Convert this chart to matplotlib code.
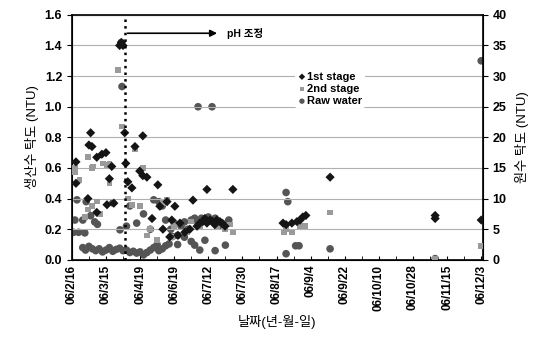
import numpy as np
import matplotlib
matplotlib.use('Agg')
import matplotlib.pyplot as plt

plt.rcParams['font.family'] = ['Liberation Sans', 'Noto Sans CJK KR', 'DejaVu Sans']
plt.rcParams['font.weight'] = 'bold'

# %% DATA (x = position on the date axis, 0 = 06/2/16, one unit per label)
date_labels = ['06/2/16', '06/3/15', '06/4/19', '06/6/19', '06/7/12', '06/7/30',
               '06/8/17', '06/9/4', '06/9/22', '06/10/10', '06/10/28', '06/11/15', '06/12/3']

ph_change_x = 1.55

# 1st stage, product turbidity (NTU, left axis)
st1_x = [0.12, 0.12, 0.47, 0.55, 0.50, 0.59, 0.73, 0.73, 0.88, 1.00, 1.03, 1.10, 1.17,
         1.23, 1.40, 1.45, 1.50, 1.55, 1.58, 1.64, 1.76, 1.85, 1.99, 2.08, 2.08, 2.20,
         2.52, 2.58, 2.35, 2.67, 2.79, 2.93, 3.02, 3.17, 3.55, 3.96, 4.72,
         3.67, 3.75, 3.84, 3.90, 3.96, 4.05, 4.13, 4.19, 4.25, 4.34, 4.40, 4.49,
         3.46, 3.31, 3.11, 2.87,
         6.19, 6.28, 6.45, 6.60, 6.69, 6.77, 6.86, 7.57, 10.65, 10.65, 12.0]
st1_y = [0.64, 0.50, 0.40, 0.83, 0.75, 0.74, 0.67, 0.31, 0.69, 0.70, 0.36, 0.53, 0.61,
         0.37, 1.40, 1.42, 1.40, 0.83, 0.63, 0.51, 0.47, 0.74, 0.58, 0.81, 0.55, 0.54,
         0.49, 0.35, 0.27, 0.20, 0.38, 0.26, 0.35, 0.24, 0.39, 0.46, 0.46,
         0.22, 0.24, 0.25, 0.27, 0.24, 0.26, 0.25, 0.23, 0.26, 0.25, 0.24, 0.22,
         0.20, 0.18, 0.16, 0.15,
         0.24, 0.23, 0.24, 0.25, 0.26, 0.28, 0.29, 0.54, 0.29, 0.27, 0.26]

# 2nd stage, product turbidity (NTU, left axis)
st2_x = [0.09, 0.23, 0.09, 0.47, 0.62, 0.91, 1.03, 1.11, 0.59, 1.11, 0.59, 0.73, 0.47,
         0.38, 0.82, 1.35, 1.47, 1.64, 1.76, 1.99, 1.85, 2.08, 2.67, 2.79, 2.20, 2.29,
         2.49, 2.93, 3.37, 3.75, 4.25, 4.34, 4.63, 4.72, 4.49, 3.00, 3.50,
         6.22, 6.28, 6.45, 6.69, 6.83, 7.57, 10.65, 12.0]
st2_y = [0.60, 0.52, 0.57, 0.67, 0.61, 0.63, 0.62, 0.63, 0.60, 0.50, 0.35, 0.38, 0.33,
         0.28, 0.30, 1.24, 0.87, 0.40, 0.36, 0.35, 0.72, 0.60, 0.37, 0.39, 0.16, 0.20,
         0.13, 0.15, 0.18, 0.22, 0.22, 0.25, 0.23, 0.18, 0.20, 0.22, 0.25,
         0.18, 0.20, 0.18, 0.22, 0.22, 0.31, 0.01, 0.09]

# raw water turbidity (NTU, right axis)
raw_x = [0.32, 0.40, 0.50, 0.60, 0.70, 0.80, 0.90, 1.00, 1.10, 1.20, 1.30, 1.40, 1.50,
         1.60, 1.70, 1.80, 1.90, 2.00, 2.10, 2.20, 2.30, 2.40, 2.50, 2.55, 2.65, 2.75, 2.85,
         0.05, 0.09, 0.15, 0.20, 0.32, 0.38, 0.42, 0.55, 0.67, 0.75, 1.20, 1.41,
         1.45, 1.47,
         1.60, 1.70, 1.90, 2.10, 2.30, 2.40, 2.55, 2.65, 2.75, 2.90, 3.00, 3.10, 3.20,
         3.30, 3.40, 3.50, 3.60, 3.70, 3.80, 3.90, 4.00, 4.10, 4.20, 4.30, 4.40,
         3.30, 3.50, 3.60, 3.75, 3.90, 4.20, 4.50, 4.60, 3.10, 2.95, 3.70, 4.11,
         6.28, 6.33, 6.28, 6.56, 6.66, 7.57, 10.65, 12.0]
raw_y = [2.0, 1.6, 2.2, 1.8, 1.5, 1.8, 1.3, 1.6, 2.0, 1.4, 1.7, 1.9, 1.5,
         1.6, 1.2, 1.4, 1.1, 1.3, 0.8, 1.2, 1.6, 2.0, 2.5, 1.5, 1.8, 2.3, 2.6,
         4.5, 6.5, 9.8, 4.5, 6.5, 4.4, 9.5, 7.2, 6.2, 5.8, 9.3, 4.9,
         35.5, 28.3,
         5.5, 8.8, 6.0, 7.5, 5.0, 9.8, 9.5, 8.8, 6.5, 5.0, 6.0, 4.0, 5.5,
         6.2, 5.0, 6.5, 6.8, 6.0, 6.8, 6.5, 7.0, 6.3, 6.8, 5.5, 6.0,
         3.7, 3.0, 2.4, 1.6, 3.2, 1.5, 2.4, 6.5, 2.5, 3.8, 25.0, 25.0,
         11.0, 9.5, 1.0, 2.3, 2.3, 1.8, 0.2, 32.5]

# %% PLOT
fig = plt.figure(figsize=(5.57, 3.46), dpi=100)
ax = fig.add_axes([0.129, 0.249, 0.738, 0.708])
ax2 = ax.twinx()

ax2.scatter(raw_x, raw_y, s=30, marker='o', color='#555555', edgecolors='none',
            label='Raw water', zorder=3)
ax.scatter(st2_x, st2_y, s=16, marker='s', color='#9a9a9a', edgecolors='none',
           label='2nd stage', zorder=4)
ax.scatter(st1_x, st1_y, s=22, marker='D', color='#151515', edgecolors='none',
           label='1st stage', zorder=5)

ax.set_xlim(0, 12.05)
ax.set_ylim(0, 1.6)
ax2.set_ylim(0, 40)
ax.set_xticks(range(len(date_labels)))
ax.set_xticklabels(date_labels, rotation=90, fontsize=8.5)
ax.set_xticks(np.arange(0.5, 12, 1.0), minor=True)
ax.tick_params(axis='x', which='both', direction='in', length=3)
ax.set_yticks(np.arange(0, 1.61, 0.2))
ax.set_yticklabels(['%.1f' % v for v in np.arange(0, 1.61, 0.2)], fontsize=9)
ax2.set_yticks(range(0, 41, 5))
ax2.tick_params(axis='y', labelsize=9)
ax.yaxis.grid(True, color='#b0b0b0', linewidth=0.8)
ax.set_axisbelow(True)
ax.set_zorder(ax2.get_zorder() + 1)
ax.patch.set_visible(False)
for sp in ax.spines.values():
    sp.set_linewidth(1.2)

ax.axvline(ph_change_x, color='black', linestyle=':', linewidth=1.8, zorder=6)
ax.annotate('', xy=(4.34, 1.48), xytext=(ph_change_x, 1.48),
            arrowprops=dict(arrowstyle='-|>', color='black', lw=1.2))
ax.text(4.55, 1.48, 'pH 조정', fontsize=7.5, va='center')

ax.set_ylabel('생산수 탁도 (NTU)', fontsize=9.5)
ax2.set_ylabel('원수 탁도 (NTU)', fontsize=9.5, rotation=90, labelpad=6)
ax.set_xlabel('날짜(년-월-일)', fontsize=9.5, labelpad=3)

h1, l1 = ax.get_legend_handles_labels()
h2, l2 = ax2.get_legend_handles_labels()
leg = ax.legend(h1[::-1] + h2, l1[::-1] + l2, loc='upper left',
                bbox_to_anchor=(0.53, 0.80), frameon=True, fontsize=8,
                handletextpad=0.1, borderpad=0.2, labelspacing=0.2,
                markerscale=0.7, handlelength=0.8)
leg.get_frame().set_edgecolor('none')
leg.get_frame().set_facecolor('white')
leg.get_frame().set_alpha(1)

fig.savefig('out.png', dpi=100)
